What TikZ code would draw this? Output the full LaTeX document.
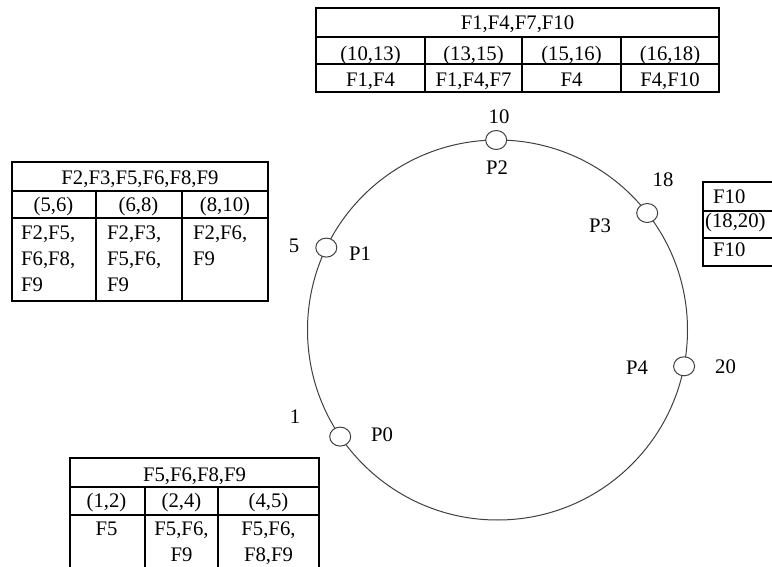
\documentclass[tikz,border=0pt]{standalone}
\usepackage{fontspec}
\setmainfont{Liberation Serif}
\usetikzlibrary{shapes.geometric}
\newcommand\tabfont{\fontsize{20.7}{26}\selectfont}
\begin{document}
\begin{tikzpicture}[x=1pt,y=-1pt,
  grid/.style={line width=1.1pt, draw=black},
  txt/.style={inner sep=0pt, font=\tabfont, text=black},
  ring/.style={line width=1pt, draw=black!75},
  port/.style={ellipse, draw=black!75, line width=1pt, fill=white,
               minimum width=21pt, minimum height=19pt, inner sep=0pt}]
\useasboundingbox (0,0) rectangle (772,567);
\fill[white] (0,0) rectangle (772,567);

% ---- ring ----
\coordinate (c) at (497.5,330);
\draw[ring] (c) circle[radius=190pt];
\node[port] (p2) at (496.2,140) {};
\node[port] (p1) at (326.3,247.6) {};
\node[port] (p3) at (647.2,213) {};
\node[port] (p4) at (684.1,366.3) {};
\node[port] (p0) at (340.2,436.6) {};

\node[txt] (n10) at (499,116.5) {10};
\node[txt] (lp2) at (497,168) {P2};
\node[txt] (n5) at (294,246) {5};
\node[txt] (lp1) at (360,253.5) {P1};
\node[txt] (n18) at (663,180) {18};
\node[txt] (lp3) at (600,226) {P3};
\node[txt] (lp4) at (637,367.5) {P4};
\node[txt] (n20) at (725.5,367) {20};
\node[txt] (n1) at (295,417) {1};
\node[txt] (lp0) at (382,434.5) {P0};

% ---- top table ----
\draw[grid] (316,8) rectangle (719,92);
\draw[grid] (316,37) -- (719,37) (316,64) -- (719,64);
\draw[grid] (425,37) -- (425,92) (522,37) -- (522,92) (621,37) -- (621,92);
\node[txt, anchor=base] (th) at (517.5,30) {F1,F4,F7,F10};
\node[txt, anchor=base] (ta1) at (370.5,61) {(10,13)};
\node[txt, anchor=base] (ta2) at (473.5,61) {(13,15)};
\node[txt, anchor=base] (ta3) at (571.5,61) {(15,16)};
\node[txt, anchor=base] (ta4) at (670,61) {(16,18)};
\node[txt, anchor=base] (tb1) at (370.5,87) {F1,F4};
\node[txt, anchor=base] (tb2) at (473.5,87) {F1,F4,F7};
\node[txt, anchor=base] (tb3) at (571.5,87) {F4};
\node[txt, anchor=base] (tb4) at (670,87) {F4,F10};

% ---- left table ----
\draw[grid] (12,162) rectangle (268,301);
\draw[grid] (12,191) -- (268,191) (12,218) -- (268,218);
\draw[grid] (96,191) -- (96,301) (182,191) -- (182,301);
\node[txt, anchor=base] (lh) at (140,185) {F2,F3,F5,F6,F8,F9};
\node[txt, anchor=base] (la1) at (53.5,212) {(5,6)};
\node[txt, anchor=base] (la2) at (138.5,212) {(6,8)};
\node[txt, anchor=base] (la3) at (225,212) {(8,10)};
\node[txt, anchor=north west, align=left] (lb1) at (21,226) {F2,F5,\\F6,F8,\\F9};
\node[txt, anchor=north west, align=left] (lb2) at (107,226) {F2,F3,\\F5,F6,\\F9};
\node[txt, anchor=north west, align=left] (lb3) at (193,226) {F2,F6,\\F9};

% ---- right table ----
\draw[grid] (703,182) rectangle (800,266);
\draw[grid] (703,211) -- (800,211) (703,238) -- (800,238);
\node[txt, anchor=base west] (rh) at (713,204) {F10};
\node[txt, anchor=base west] (ra) at (705,228) {(18,20)};
\node[txt, anchor=base west] (rb) at (713,257) {F10};

% ---- bottom table ----
\draw[grid] (70,458) rectangle (319,600);
\draw[grid] (70,487) -- (319,487) (70,515) -- (319,515);
\draw[grid] (145,487) -- (145,600) (218,487) -- (218,600);
\node[txt, anchor=base] (bh) at (194.5,481) {F5,F6,F8,F9};
\node[txt, anchor=base] (ba1) at (106.5,507) {(1,2)};
\node[txt, anchor=base] (ba2) at (181.5,507) {(2,4)};
\node[txt, anchor=base] (ba3) at (268.5,507) {(4,5)};
\node[txt, anchor=north] (bb1) at (106.5,522) {F5};
\node[txt, anchor=north, align=center] (bb2) at (181.5,522) {F5,F6,\\F9};
\node[txt, anchor=north, align=center] (bb3) at (268.5,522) {F5,F6,\\F8,F9};
\end{tikzpicture}
\end{document}
